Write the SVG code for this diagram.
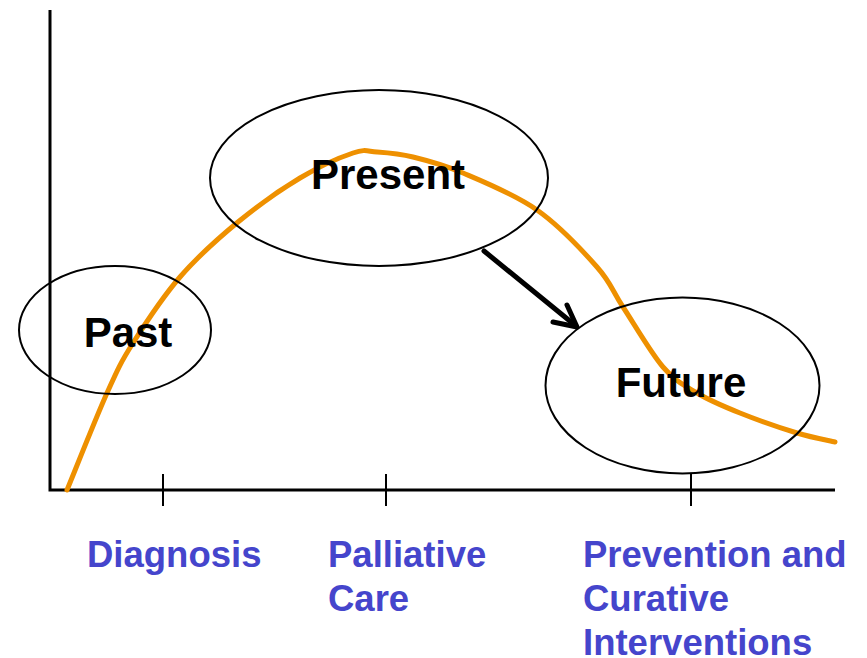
<svg xmlns="http://www.w3.org/2000/svg" width="867" height="658" viewBox="0 0 867 658">
<style>
.axis{stroke:#000;stroke-width:3;fill:none}
.tick{stroke:#000;stroke-width:2;fill:none}
.ell{fill:none;stroke:#000;stroke-width:2}
.curve{fill:none;stroke:#EE9000;stroke-width:5;stroke-linecap:round;stroke-linejoin:round}
.lbl{font-family:"Liberation Sans",Arial,sans-serif;font-weight:bold;font-size:42px;fill:#000}
.ax{font-family:"Liberation Sans",Arial,sans-serif;font-weight:bold;font-size:36.5px;fill:#4545CC}
.arrow{fill:none;stroke:#000;stroke-width:5;stroke-linecap:round;stroke-linejoin:round}
</style>
<rect width="867" height="658" fill="#fff"/>
<g id="axes">
<path class="axis" d="M50,10 V490 H835"/>
<path class="tick" d="M163,474 V506 M386,474 V506 M691,474 V506"/>
</g>
<g id="curve">
<path class="curve" d="M67,490 C73.7,473.8 96,417.5 107,393 C118,368.5 120.8,362.3 133,343 C145.2,323.7 162.5,297.2 180,277 C197.5,256.8 218,238.5 238,222 C258,205.5 280.8,189.5 300,178 C319.2,166.5 340.2,157.3 353,153 C365.8,148.7 367,151.3 377,152 C387,152.7 398.7,153.5 413,157 C427.3,160.5 442.3,164.2 463,173 C483.7,181.8 514.7,194.3 537,210 C559.3,225.7 582.7,250.8 597,267 C611.3,283.2 612,290.3 623,307 C634,323.7 650.7,352.7 663,367 C675.3,381.3 684.2,385.3 697,393 C709.8,400.7 723.3,406.3 740,413 C756.7,419.7 781.2,428.2 797,433 C812.8,437.8 828.7,440.5 835,442"/>
</g>
<g id="past">
<ellipse class="ell" cx="115" cy="330" rx="96" ry="64"/>
<text class="lbl" x="128" y="347" text-anchor="middle">Past</text>
</g>
<g id="present">
<ellipse class="ell" cx="379" cy="178" rx="169" ry="88"/>
<text class="lbl" x="388" y="189" text-anchor="middle">Present</text>
</g>
<g id="future">
<ellipse class="ell" cx="682.5" cy="385.5" rx="137" ry="88"/>
<text class="lbl" x="681" y="397" text-anchor="middle">Future</text>
</g>
<g id="connectors">
<path class="arrow" d="M484,251 L576,326"/>
<path class="arrow" d="M553,322 L577,327 L567,305"/>
</g>
<g id="labels">
<text class="ax" x="87" y="567">Diagnosis</text>
<text class="ax" x="328" y="567">Palliative</text>
<text class="ax" x="328" y="611">Care</text>
<text class="ax" x="583" y="567">Prevention and</text>
<text class="ax" x="583" y="611">Curative</text>
<text class="ax" x="583" y="655">Interventions</text>
</g>
</svg>
